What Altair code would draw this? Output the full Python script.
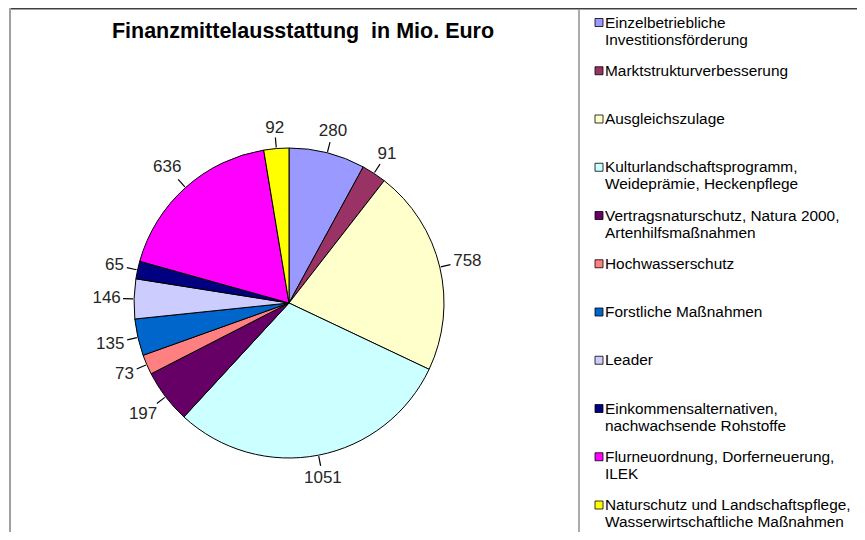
import altair as alt
import pandas as pd

categories = [
    "Einzelbetriebliche\nInvestitionsförderung",
    "Marktstrukturverbesserung",
    "Ausgleichszulage",
    "Kulturlandschaftsprogramm,\nWeideprämie, Heckenpflege",
    "Vertragsnaturschutz, Natura 2000,\nArtenhilfsmaßnahmen",
    "Hochwasserschutz",
    "Forstliche Maßnahmen",
    "Leader",
    "Einkommensalternativen,\nnachwachsende Rohstoffe",
    "Flurneuordnung, Dorferneuerung,\nILEK",
    "Naturschutz und Landschaftspflege,\nWasserwirtschaftliche Maßnahmen",
]
values = [280, 91, 758, 1051, 197, 73, 135, 146, 65, 636, 92]
colors = ["#9999FF", "#993366", "#FFFFCC", "#CCFFFF", "#660066", "#FF8080",
          "#0066CC", "#CCCCFF", "#000080", "#FF00FF", "#FFFF00"]
title_text = "Finanzmittelausstattung \u00a0in Mio. Euro"

FONT = "Liberation Sans, Arial, sans-serif"
W, H = 849, 524
CX, CY, R = 281, 295, 155

df = pd.DataFrame({"cat": categories, "value": values, "idx": list(range(len(values)))})
one = pd.DataFrame({"k": [0]})

base = alt.Chart(df)
color = alt.Color("cat:N", scale=alt.Scale(domain=categories, range=colors), legend=None)

pie = base.mark_arc(outerRadius=R, stroke="#000000", strokeWidth=1).encode(
    theta=alt.Theta("value:Q", stack=True),
    color=color,
    order=alt.Order("idx:Q"),
    x=alt.value(CX),
    y=alt.value(CY),
)

polar = (
    base.transform_window(cum="sum(value)", sort=[alt.SortField("idx")], frame=[None, 0])
    .transform_joinaggregate(total="sum(value)")
    .transform_calculate(
        a="(datum.cum - datum.value/2) / datum.total * 2 * PI",
        lbl="format(datum.value, 'd')",
    )
)

labels = (
    polar.transform_calculate(
        rl=f"{R} + 13 + length(datum.lbl) * 9.5 / 2 * abs(sin(datum.a)) + 6.5 * abs(cos(datum.a))",
    )
    .transform_calculate(
        lx=f"{CX} + datum.rl * sin(datum.a)",
        ly=f"{CY} - datum.rl * cos(datum.a)",
    )
    .mark_text(fontSize=17, font=FONT, color="#262626", align="center", baseline="middle")
    .encode(
        x=alt.X("lx:Q", scale=None, axis=None),
        y=alt.Y("ly:Q", scale=None, axis=None),
        text="lbl:N",
    )
)

leaders = (
    polar.transform_calculate(
        x1=f"{CX} + {R + 1} * sin(datum.a)",
        y1=f"{CY} - {R + 1} * cos(datum.a)",
        x2=f"{CX} + {R + 11} * sin(datum.a)",
        y2=f"{CY} - {R + 11} * cos(datum.a)",
    )
    .mark_rule(color="#000000", strokeWidth=1.2, opacity=1)
    .encode(
        x=alt.X("x1:Q", scale=None, axis=None),
        y=alt.Y("y1:Q", scale=None, axis=None),
        x2=alt.X2("x2:Q"),
        y2=alt.Y2("y2:Q"),
    )
)

leg_y = alt.Y("idx:Q", scale=alt.Scale(domain=[0, 10], range=[14.5, 497], nice=False, zero=False), axis=None)

leg_sq = base.mark_square(size=64, stroke="#000000", strokeWidth=0.8, opacity=1, filled=True).encode(
    x=alt.value(591), y=leg_y, color=color,
)
leg_tx = base.mark_text(align="left", baseline="alphabetic", dy=5, lineBreak="\n", lineHeight=17,
                        fontSize=15.4, font=FONT, color="#000000").encode(
    x=alt.value(597), y=leg_y, text="cat:N",
)

title = alt.Chart(one).mark_text(fontSize=21.5, fontWeight="bold", font=FONT, color="#000000",
                                 align="center", baseline="alphabetic").encode(
    x=alt.value(295), y=alt.value(29.5), text=alt.value(title_text),
)

top1 = alt.Chart(one).mark_rule(color="#404040", strokeWidth=1).encode(
    x=alt.value(1), x2=alt.value(W), y=alt.value(0.5))
top2 = alt.Chart(one).mark_rule(color="#a0a0a0", strokeWidth=1).encode(
    x=alt.value(1), x2=alt.value(W), y=alt.value(1.5))
left = alt.Chart(one).mark_rule(color="#a0a0a0", strokeWidth=2).encode(
    x=alt.value(2), y=alt.value(0), y2=alt.value(H))
divider = alt.Chart(one).mark_rule(color="#909090", strokeWidth=1.5).encode(
    x=alt.value(571), y=alt.value(1), y2=alt.value(H))

chart = (
    alt.layer(pie, leaders, labels, leg_sq, leg_tx, title, top1, top2, left, divider)
    .resolve_scale(x="independent", y="independent", color="shared")
    .properties(width=W, height=H, autosize=alt.AutoSizeParams(type="none"), padding=0,
                background="#ffffff")
    .configure_view(stroke=None)
)

chart.save("out.html", embed_options={"renderer": "svg", "actions": False})
